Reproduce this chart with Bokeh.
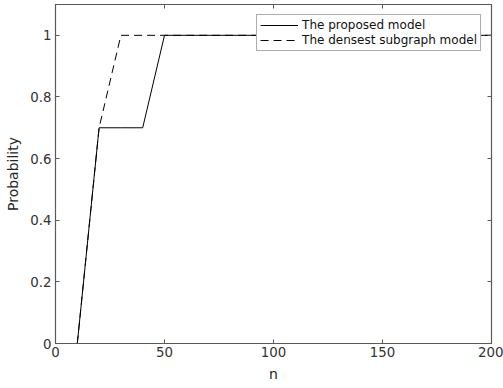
from bokeh.plotting import figure
from bokeh.models import LinearAxis, Range1d, Legend, LegendItem, FixedTicker
from bokeh.embed import file_html
from bokeh.resources import INLINE

# n values and probabilities for the two models
n_vals = [10, 20, 30, 40, 50, 60, 70, 80, 90, 100, 110, 120, 130, 140, 150, 160, 170, 180, 190, 200]
proposed = [0, 0.7, 0.7, 0.7, 1, 1, 1, 1, 1, 1, 1, 1, 1, 1, 1, 1, 1, 1, 1, 1]
densest = [0, 0.7, 1, 1, 1, 1, 1, 1, 1, 1, 1, 1, 1, 1, 1, 1, 1, 1, 1, 1]

x_ticks = [0, 50, 100, 150, 200]
y_ticks = [0, 0.2, 0.4, 0.6, 0.8, 1]

FONT = "DejaVu Sans"
AX = "#5a5a5a"

p = figure(width=503, height=388, output_backend="svg", toolbar_location=None,
           x_range=Range1d(0, 200), y_range=Range1d(0, 1.1),
           min_border_left=55, min_border_right=12, min_border_top=4, min_border_bottom=45,
           x_axis_label="n", y_axis_label="Probability")
p.grid.visible = False
p.outline_line_color = AX
p.outline_line_width = 1.2
p.background_fill_color = "white"
p.border_fill_color = "white"

r1 = p.line(n_vals, proposed, line_color="black", line_width=1)
r2 = p.line(n_vals, densest, line_color="black", line_width=1, line_dash="8 5")

p.xaxis.ticker = FixedTicker(ticks=x_ticks)
p.yaxis.ticker = FixedTicker(ticks=y_ticks)
p.yaxis.major_label_overrides = {0: "0", 1: "1"}

for ax in (p.xaxis[0], p.yaxis[0]):
    ax.major_tick_in = 4
    ax.major_tick_out = 0
    ax.minor_tick_line_color = None
    ax.axis_line_color = AX
    ax.major_tick_line_color = AX
    ax.major_label_text_font = FONT
    ax.major_label_text_font_size = "10pt"
    ax.major_label_text_color = "#333333"
    ax.axis_label_text_font = FONT
    ax.axis_label_text_font_size = "10.5pt"
    ax.axis_label_text_font_style = "normal"
    ax.axis_label_text_color = "#262626"

p.xaxis.axis_label_standoff = 6
p.yaxis.axis_label_standoff = 6
p.xaxis.major_label_standoff = 3
p.yaxis.major_label_standoff = 4

# mirrored axes on top and right: inward ticks, no labels
top = LinearAxis(ticker=FixedTicker(ticks=x_ticks),
                 major_label_overrides={t: "" for t in x_ticks},
                 major_label_text_alpha=0,
                 major_tick_in=4, major_tick_out=0, minor_tick_line_color=None,
                 axis_line_color=AX, major_tick_line_color=AX)
right = LinearAxis(ticker=FixedTicker(ticks=y_ticks),
                   major_label_overrides={t: "" for t in y_ticks},
                   major_label_text_alpha=0,
                   major_tick_in=4, major_tick_out=0, minor_tick_line_color=None,
                   axis_line_color=AX, major_tick_line_color=AX)
p.add_layout(top, "above")
p.add_layout(right, "right")

legend = Legend(items=[LegendItem(label="The proposed model", renderers=[r1]),
                       LegendItem(label="The densest subgraph model", renderers=[r2])],
                location="top_right")
legend.label_text_font = FONT
legend.label_text_font_size = "9pt"
legend.label_text_color = "#111111"
legend.glyph_width = 38
legend.glyph_height = 14
legend.label_height = 14
legend.label_standoff = 4
legend.spacing = 1
legend.padding = 3
legend.margin = 10
legend.border_line_color = AX
legend.border_line_width = 1
legend.background_fill_alpha = 1
p.add_layout(legend)

open("out.html", "w").write(file_html(p, INLINE))
